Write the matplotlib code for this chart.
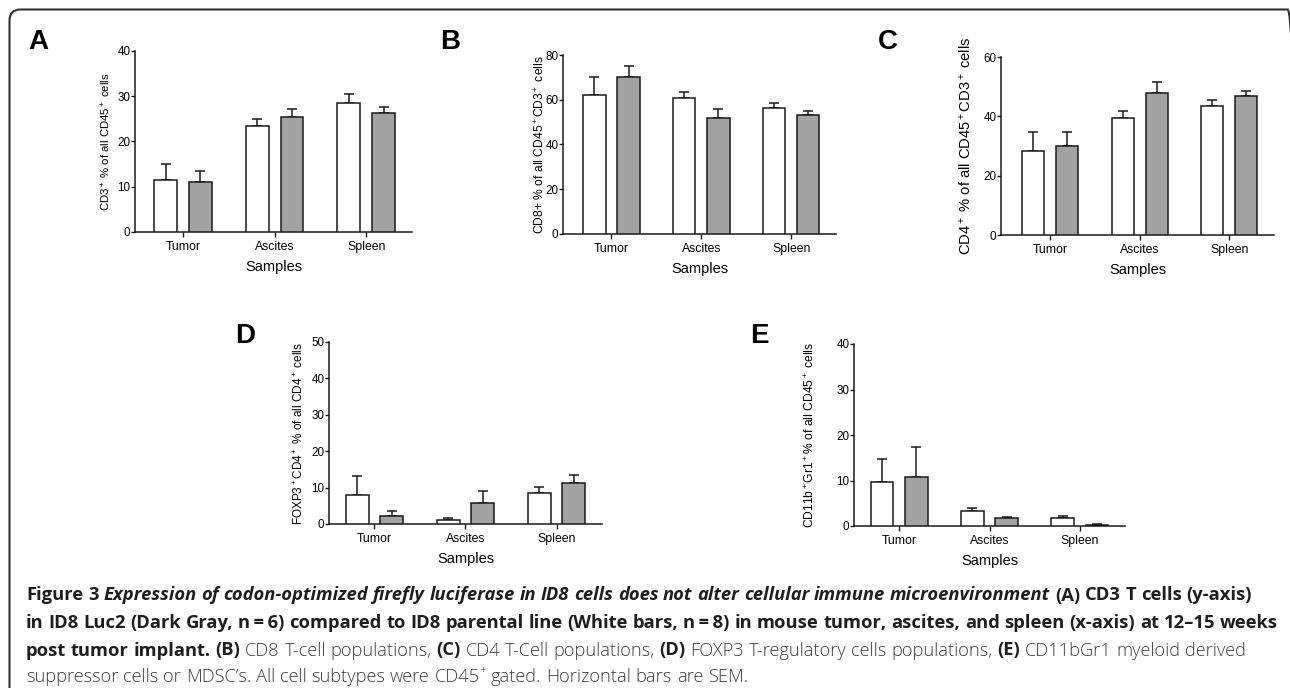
import matplotlib
matplotlib.use('Agg')
import matplotlib.pyplot as plt
from matplotlib.patches import FancyBboxPatch
import numpy as np

plt.rcParams['font.family'] = ['Liberation Sans', 'DejaVu Sans']
plt.rcParams['mathtext.fontset'] = 'custom'
plt.rcParams['mathtext.rm'] = 'Liberation Sans'
plt.rcParams['mathtext.it'] = 'Liberation Sans:italic'
plt.rcParams['mathtext.bf'] = 'Liberation Sans:bold'

categories = ['Tumor', 'Ascites', 'Spleen']

# white bars = ID8 parental, gray bars = ID8 Luc2 (mean and SEM)
a_white = [11.6, 23.5, 28.5]
a_white_err = [3.4, 1.5, 2.1]
a_gray = [11.1, 25.4, 26.2]
a_gray_err = [2.4, 1.8, 1.4]

b_white = [62.2, 61.0, 56.4]
b_white_err = [7.9, 2.5, 2.2]
b_gray = [70.2, 52.0, 53.1]
b_gray_err = [4.8, 3.9, 1.9]

c_white = [28.4, 39.3, 43.4]
c_white_err = [6.4, 2.6, 2.2]
c_gray = [30.0, 48.0, 46.7]
c_gray_err = [4.6, 3.7, 2.0]

d_white = [8.1, 1.2, 8.4]
d_white_err = [5.0, 0.35, 1.9]
d_gray = [2.2, 5.8, 11.3]
d_gray_err = [1.5, 3.3, 2.2]

e_white = [9.6, 3.2, 1.75]
e_white_err = [5.2, 0.7, 0.45]
e_gray = [10.7, 1.75, 0.3]
e_gray_err = [6.7, 0.25, 0.1]

ylabels = [r'CD3$^+$ % of all CD45$^+$ cells',
           r'CD8+ % of all CD45$^+$CD3$^+$ cells',
           r'CD4$^+$ % of all CD45$^+$CD3$^+$ cells',
           r'FOXP3$^+$CD4$^+$ % of all CD4$^+$ cells',
           r'CD11b$^+$Gr1$^+$% of all CD45$^+$ cells']
letters = ['A', 'B', 'C', 'D', 'E']
ymaxes = [40, 80, 60, 50, 40]
ysteps = [10, 20, 20, 10, 10]

W, H = 1290, 688
fig = plt.figure(figsize=(W / 100, H / 100), dpi=100)

# frame around the figure (rounded corners, runs off the bottom/right)
frame = FancyBboxPatch((0.095, -1.0), 12.89, 6.88 - 0.095 + 1.0,
                       boxstyle='round,pad=0,rounding_size=0.11',
                       transform=fig.dpi_scale_trans, fill=False,
                       edgecolor='#333333', linewidth=1.5)
fig.patches.append(frame)

# panel layout in pixels: x0, x1, ytop, ybottom, xlim left, label x, label size, letter pos
layout = [
    (135, 412, 51, 232, -0.525, -0.105, 8.2, (28, 49)),
    (563, 836, 55, 234, -0.54, -0.084, 8.7, (440, 49)),
    (1001, 1274, 57, 235, -0.55, -0.128, 10.6, (878, 49)),
    (329, 602, 342, 524, -0.5, -0.11, 8.5, (235, 343)),
    (854, 1125, 344, 526, -0.5, -0.162, 8.7, (750, 343)),
]
whites = [(a_white, a_white_err), (b_white, b_white_err), (c_white, c_white_err),
          (d_white, d_white_err), (e_white, e_white_err)]
grays = [(a_gray, a_gray_err), (b_gray, b_gray_err), (c_gray, c_gray_err),
         (d_gray, d_gray_err), (e_gray, e_gray_err)]

ink = '#1a1a1a'
x = np.arange(len(categories))
for i, (x0, x1, yt, yb, xl, lx, lsize, lpos) in enumerate(layout):
    ax = fig.add_axes([x0 / W, 1 - yb / H, (x1 - x0) / W, (yb - yt) / H])
    for off, (vals, errs), fc in [(-0.19, whites[i], 'white'), (0.19, grays[i], '#a2a2a2')]:
        ax.bar(x + off, vals, 0.25, color=fc, edgecolor=ink, linewidth=1.1, zorder=3)
        ax.errorbar(x + off, vals, yerr=[np.zeros(len(vals)), errs], fmt='none',
                    ecolor=ink, elinewidth=1.1, capsize=3.3, capthick=1.1, zorder=2)
    ax.set_xlim(xl, 2.5)
    ax.set_ylim(0, ymaxes[i])
    ax.set_yticks(np.arange(0, ymaxes[i] + 1, ysteps[i]))
    ax.set_xticks(x)
    ax.set_xticklabels(categories)
    ax.spines[['top', 'right']].set_visible(False)
    for s in ['left', 'bottom']:
        ax.spines[s].set_linewidth(1.1)
        ax.spines[s].set_color(ink)
    ax.tick_params(axis='y', length=2.6, width=1.0, pad=0.8, labelsize=8.4, color=ink)
    ax.tick_params(axis='x', length=3.6, width=1.0, pad=3.2, labelsize=8.8, color=ink)
    ax.set_ylabel(ylabels[i], fontsize=lsize, va='center')
    ax.yaxis.set_label_coords(lx, 0.5)
    ax.set_xlabel('Samples', fontsize=10.5, va='center')
    ax.xaxis.set_label_coords(0.5, -35 / (yb - yt))
    ax.patch.set_alpha(0)
    fig.text(lpos[0] / W, 1 - lpos[1] / H, letters[i], fontsize=20, weight='bold',
             ha='left', va='baseline')

# caption, drawn word by word so the styles can change inside a line
caption = [
    [('Figure 3', 'b'),
     (' Expression of codon-optimized firefly luciferase in ID8 cells does not alter cellular immune microenvironment', 'bi'),
     (' (A) CD3 T cells (y-axis)', 'b')],
    [('in ID8 Luc2 (Dark Gray, n\u2009=\u20096) compared to ID8 parental line (White bars, n\u2009=\u20098) in mouse tumor, ascites, and spleen (x-axis) at 12\u201315 weeks', 'b')],
    [('post tumor implant.', 'b'), (' (B)', 'b'), (' CD8 T-cell populations,', 'r'),
     (' (C)', 'b'), (' CD4 T-Cell populations,', 'r'), (' (D)', 'b'),
     (' FOXP3 T-regulatory cells populations,', 'r'), (' (E)', 'b'),
     (' CD11bGr1 myeloid derived', 'r')],
    [('suppressor cells or MDSC\u2019s. All cell subtypes were CD45', 'r'), ('+', 'sup'),
     (' gated. Horizontal bars are SEM.', 'r')],
]
baselines = [600.5, 628, 655.5, 682]

styles = {
    'b': dict(weight='bold', color='#1e1e1e'),
    'bi': dict(weight='bold', style='italic', color='#1e1e1e'),
    'r': dict(weight='light', color='#3c3c3c'),
    'sup': dict(weight='light', color='#3c3c3c'),
}
renderer = fig.canvas.get_renderer()


def width_of(s, size, st):
    t = fig.text(0, 0, s, fontsize=size, family=['Open Sans', 'DejaVu Sans'], **styles[st])
    w = t.get_window_extent(renderer).width
    t.remove()
    return w


def layout_line(runs, size, reg, y=None):
    cx = 26.0
    for text, st in runs:
        fs = size
        if st == 'r':
            fs = size * reg
        if st == 'sup':
            fs = size * reg * 0.62
        gap = width_of('a a', fs, st) - width_of('aa', fs, st)
        for k, word in enumerate(text.split(' ')):
            if k > 0:
                cx += gap
            if word == '':
                continue
            if y is not None:
                yy = y - (size * 0.5 / 72 * 100 if st == 'sup' else 0)
                fig.text(cx / W, 1 - yy / H, word, fontsize=fs, ha='left', va='baseline',
                         family=['Open Sans', 'DejaVu Sans'], **styles[st])
            cx += width_of(word, fs, st)
    return cx


size0 = 10.5
w2 = layout_line(caption[1], size0, 1.0) - 26.0
cap_size = size0 * 1249.0 / w2
w4 = layout_line(caption[3], cap_size, 1.0) - 26.0
reg_scale = 730.0 / w4
for runs, yb in zip(caption, baselines):
    layout_line(runs, cap_size, reg_scale, yb)

fig.savefig('out.png', dpi=100)
